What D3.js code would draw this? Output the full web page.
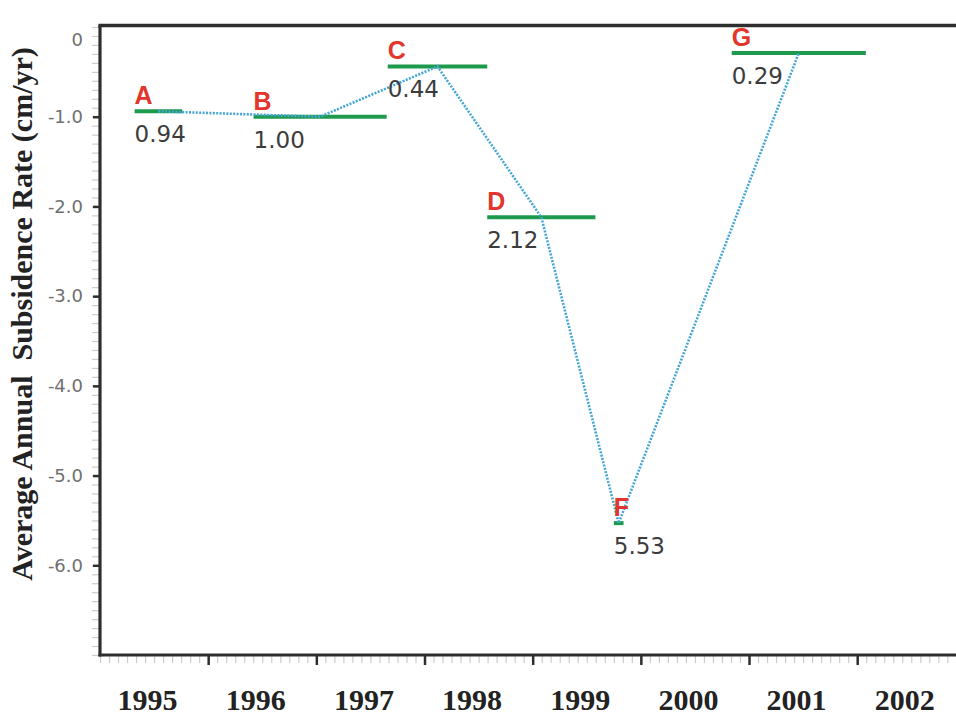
<!DOCTYPE html>
<html>
<head>
<meta charset="utf-8">
<script src="https://cdn.jsdelivr.net/npm/d3@7/dist/d3.min.js"></script>
<style>
  html, body { margin: 0; padding: 0; background: #fff; }
  svg { display: block; }
</style>
</head>
<body>
<svg id="chart" width="956" height="719"></svg>
<script>
// Survey intervals (decimal years) and their average annual subsidence rate (cm/yr)
const intervalNames = ["A", "B", "C", "D", "F", "G"];
const intervalStart = [1995.32, 1996.42, 1997.66, 1998.58, 1999.75, 2000.84];
const intervalEnd   = [1995.76, 1997.65, 1998.58, 1999.58, 1999.84, 2002.08];
const rates         = [-0.94, -1.00, -0.44, -2.12, -5.53, -0.29];

// Axis labels
const yearLabels = [1995, 1996, 1997, 1998, 1999, 2000, 2001, 2002];
const yearTicks  = [1996, 1997, 1998, 1999, 2000, 2001, 2002];
const rateTicks  = [0, -1, -2, -3, -4, -5, -6];

const data = intervalNames.map((name, i) => ({
  name, start: intervalStart[i], end: intervalEnd[i], rate: rates[i]
}));

const svg = d3.select("#chart");
const plotLeft = 100, plotTop = 27, plotBottom = 655;

const x = d3.scaleLinear().domain([1995, 2003]).range([plotLeft, plotLeft + 8 * 108.17]);
const y = d3.scaleLinear().domain([0, -7]).range([plotTop, plotBottom]);

const axisColor = "#2e2e2e";
const minorColor = "#cccccc";

// ---- Y axis: minor ticks every 0.1 ----
const yMinor = d3.range(0, 71).map(i => -i / 10);
svg.append("g")
  .attr("transform", `translate(${plotLeft},0)`)
  .call(d3.axisLeft(y).tickValues(yMinor).tickSize(8).tickFormat(""))
  .call(g => g.select(".domain").remove())
  .call(g => g.selectAll("line").attr("stroke", minorColor).attr("stroke-width", 1.2));

// ---- Y axis: major ticks and labels ----
const yAxisG = svg.append("g")
  .attr("transform", `translate(${plotLeft},0)`)
  .call(d3.axisLeft(y).tickValues(rateTicks).tickSize(7).tickPadding(10)
    .tickFormat(d => d === 0 ? "0" : d.toFixed(1)))
  .call(g => g.select(".domain").remove());
yAxisG.selectAll(".tick line")
  .attr("stroke", axisColor).attr("stroke-width", 2.5)
  .filter(d => d === 0).remove();
yAxisG.selectAll(".tick text")
  .attr("fill", "#707070")
  .style("font-family", "'DejaVu Sans', sans-serif")
  .style("font-size", "18px")
  .filter(d => d === 0).attr("dy", "1.0em");

// ---- X axis: monthly minor ticks ----
const xMinor = d3.range(0, 8 * 12 + 1).map(i => 1995 + i / 12);
svg.append("g")
  .attr("transform", `translate(0,${plotBottom})`)
  .call(d3.axisBottom(x).tickValues(xMinor).tickSize(8).tickFormat(""))
  .call(g => g.select(".domain").remove())
  .call(g => g.selectAll("line").attr("stroke", minorColor).attr("stroke-width", 1.2));

// ---- X axis: year boundaries ----
svg.append("g")
  .attr("transform", `translate(0,${plotBottom})`)
  .call(d3.axisBottom(x).tickValues(yearTicks).tickSize(10).tickFormat(""))
  .call(g => g.select(".domain").remove())
  .call(g => g.selectAll("line").attr("stroke", axisColor).attr("stroke-width", 2.5));

// ---- X axis: year labels centred in each year ----
svg.append("g")
  .attr("transform", `translate(0,${plotBottom})`)
  .call(d3.axisBottom(x).tickValues(yearLabels.map(v => v + 0.5)).tickSize(0).tickPadding(34)
    .tickFormat(d => String(Math.floor(d))))
  .call(g => g.select(".domain").remove())
  .call(g => g.selectAll("text")
    .attr("dx", -7)
    .attr("fill", "#222")
    .style("font-family", "'Liberation Serif', 'Times New Roman', serif")
    .style("font-weight", "bold")
    .style("font-size", "30px"));

// ---- Frame: left axis, bottom axis, top border ----
svg.append("line")
  .attr("x1", plotLeft).attr("x2", plotLeft).attr("y1", plotTop - 2).attr("y2", plotBottom + 1.5)
  .attr("stroke", axisColor).attr("stroke-width", 3.2);
svg.append("line")
  .attr("x1", plotLeft - 1.5).attr("x2", 956).attr("y1", plotBottom).attr("y2", plotBottom)
  .attr("stroke", axisColor).attr("stroke-width", 3.2);
svg.append("line")
  .attr("x1", plotLeft - 1.5).attr("x2", 956).attr("y1", plotTop - 1.5).attr("y2", plotTop - 1.5)
  .attr("stroke", axisColor).attr("stroke-width", 3.5);

// ---- Y axis title ----
svg.append("text")
  .attr("transform", `translate(32,${(plotTop + plotBottom) / 2 - 27}) rotate(-90)`)
  .attr("text-anchor", "middle")
  .attr("fill", "#222")
  .style("font-family", "'Liberation Serif', 'Times New Roman', serif")
  .style("font-weight", "bold")
  .style("font-size", "30px")
  .style("white-space", "pre")
  .text("Average Annual  Subsidence Rate (cm/yr)");

// ---- Interval levels (green bars) ----
svg.append("g").selectAll("line")
  .data(data)
  .join("line")
  .attr("x1", d => x(d.start))
  .attr("x2", d => x(d.end))
  .attr("y1", d => y(d.rate))
  .attr("y2", d => y(d.rate))
  .attr("stroke", "#1e9a4c")
  .attr("stroke-width", 4);

// ---- Dotted trend through interval midpoints ----
const line = d3.line()
  .x(d => x((d.start + d.end) / 2))
  .y(d => y(d.rate));
svg.append("path")
  .datum(data)
  .attr("d", line)
  .attr("fill", "none")
  .attr("stroke", "#45a6d6")
  .attr("stroke-width", 2.6)
  .attr("stroke-dasharray", "2,1.4");

// ---- Interval letters ----
svg.append("g").selectAll("text")
  .data(data)
  .join("text")
  .attr("x", d => x(d.start))
  .attr("y", d => y(d.rate) - 7)
  .attr("fill", "#e2352c")
  .style("font-family", "'Liberation Sans', Arial, sans-serif")
  .style("font-weight", "bold")
  .style("font-size", "25px")
  .text(d => d.name);

// ---- Rate values (magnitude) ----
svg.append("g").selectAll("text")
  .data(data)
  .join("text")
  .attr("x", d => x(d.start))
  .attr("y", d => y(d.rate) + 31)
  .attr("fill", "#3c3c3c")
  .style("font-family", "'DejaVu Sans', sans-serif")
  .style("font-size", "23px")
  .text(d => Math.abs(d.rate).toFixed(2));
</script>
</body>
</html>
